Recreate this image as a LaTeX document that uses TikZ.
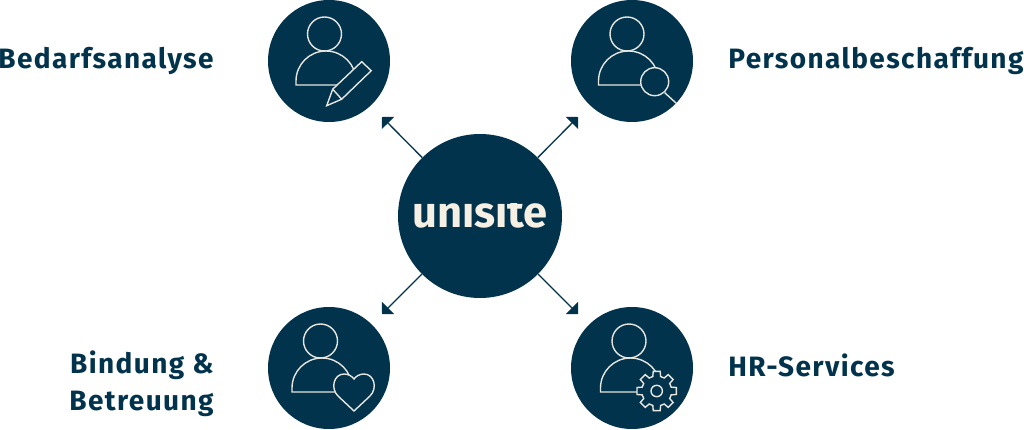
\documentclass[tikz,border=0pt]{standalone}
\usepackage{fontspec}
\usepackage{tikz}
\usetikzlibrary{positioning,arrows.meta}
\setmainfont[LetterSpace=5]{Fira Sans}
\newfontfamily\logofont{Fira Sans}
\definecolor{navy}{HTML}{02334D}
\definecolor{cream}{HTML}{F6EFE4}
\definecolor{iconline}{HTML}{E6E6DE}
\tikzset{
  x=1pt, y=-1pt,
  hubnode/.style={circle, fill=navy, inner sep=0pt, minimum size=164pt},
  topic/.style={circle, fill=navy, inner sep=0pt, minimum size=122pt},
  caption/.style={text=navy, inner sep=0pt, font=\fontsize{28}{37}\selectfont\bfseries},
  link/.style={draw=navy, line width=1.3pt, -{Triangle[length=8.5pt,width=17pt]}},
  icon/.style={draw=iconline, line width=1.4pt, fill=navy, line join=miter},
  person/.pic={
    \draw[icon] (0,0) circle (17);
    \draw[icon, fill=none] (24,51) -- (-28.5,51) -- (-28.5,47) arc (180:360:30);
  },
  pencil/.pic={
    \draw[icon] (0,0) -- (6,-16.5) -- (35,-44) -- (44.5,-35) -- (15,-6.5) -- cycle;
    \draw[icon] (6,-16.5) -- (15,-6.5);
  },
  lens/.pic={
    \draw[icon] (0,0) circle (14);
    \draw[icon] (10,11) -- (21.5,21.5);
  },
  heart/.pic={
    \draw[icon] (0,19) -- (-16,4) .. controls (-24,-4) and (-20,-18) .. (-10,-18)
      .. controls (-6,-18) and (-2,-16) .. (0,-13)
      .. controls (2,-16) and (6,-18) .. (10,-18)
      .. controls (20,-18) and (24,-4) .. (16,4) -- cycle;
  },
  gear/.pic={
    \draw[icon] (-10:20) \foreach \a in {0,45,...,315} {
      -- ({\a-10}:20) -- ({\a+10}:20) -- ({\a+15}:15) -- ({\a+30}:15)
    } -- cycle;
    \draw[icon] (0,0) circle (5.7);
  }
}
\begin{document}
\begin{tikzpicture}
\useasboundingbox (0,0) rectangle (1024,430);

\node[hubnode] (hub) at (480,216) {};
\begin{scope}
  \clip (400,204) rectangle (560,228);
  \node[text=cream, inner sep=0pt, anchor=base] (logo) at (480,227.5)
    {\logofont\bfseries\fontsize{43.5}{44}\selectfont unisite};
\end{scope}

\node[topic] (plan) at (329,61) {};
\node[topic] (hire) at (632,61) {};
\node[topic] (care) at (329,368) {};
\node[topic] (serv) at (632,368) {};

\node[caption, left=54pt of plan] (plantext) {Bedarfsanalyse};
\node[caption, right=35pt of hire] (hiretext) {Personalbeschaffung};
\node[caption, left=54pt of care, align=right, yshift=-16pt] (caretext) {Bindung \&\\Betreuung};
\node[caption, right=35pt of serv, yshift=3pt] (servtext) {HR-Services};

\coordinate (plantip) at (382,117);
\coordinate (hiretip) at (578,117);
\coordinate (caretip) at (382,314);
\coordinate (servtip) at (578,314);
\draw[link] (hub) -- (plantip);
\draw[link] (hub) -- (hiretip);
\draw[link] (hub) -- (caretip);
\draw[link] (hub) -- (servtip);

% icons
\pic at (324.5,34) {person};
\pic at (326.7,105.7) {pencil};
\pic at (627,34) {person};
\pic at (654.7,81.7) {lens};
\pic at (320.5,341) {person};
\pic at (354,392) {heart};
\pic at (629,341) {person};
\pic at (656.7,391) {gear};
\end{tikzpicture}
\end{document}
